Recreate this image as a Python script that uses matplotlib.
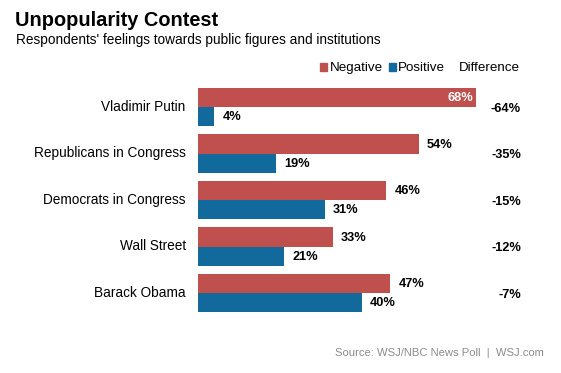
import matplotlib
matplotlib.use("Agg")
import matplotlib.pyplot as plt
from matplotlib.patches import Rectangle
from matplotlib.transforms import blended_transform_factory

plt.rcParams['font.family'] = ['Liberation Sans', 'DejaVu Sans']

# data
categories = ['Vladimir Putin', 'Republicans in Congress', 'Democrats in Congress',
              'Wall Street', 'Barack Obama']
negative = [68, 54, 46, 33, 47]
positive = [4, 19, 31, 21, 40]
difference = [-64, -35, -15, -12, -7]

red = '#c0504d'
blue = '#11699c'

W, H = 561, 373
fig = plt.figure(figsize=(W / 100, H / 100), dpi=100)
fig.patch.set_facecolor('white')

def fx(px):
    return px / W

def fy(py):
    return 1 - py / H

# axes: x from pixel 198, 4.09 px per percent; groups every 46.5 px
left, top, bottom = 198, 83.75, 316.25
xmax = 80
ax = fig.add_axes([fx(left), fy(bottom), xmax * 4.09 / W, (bottom - top) / H])
ax.set_xlim(0, xmax)
ax.set_ylim(len(categories) - 0.5, -0.5)
ax.axis('off')

h = 0.41
ys = list(range(len(categories)))
ax.barh([y - h / 2 for y in ys], negative, height=h, color=red, linewidth=0)
ax.barh([y + h / 2 for y in ys], positive, height=h, color=blue, linewidth=0)

diff_tr = blended_transform_factory(fig.transFigure, ax.transData)
for y, n, p, d, name in zip(ys, negative, positive, difference, categories):
    if n > 60:
        ax.text(n - 0.8, y - h / 2 + 0.02, f'{n}%', ha='right', va='center',
                color='white', fontsize=9.2, fontweight='bold')
    else:
        ax.text(n + 2, y - h / 2 + 0.02, f'{n}%', ha='left', va='center',
                color='black', fontsize=9.2, fontweight='bold')
    ax.text(p + 2, y + h / 2 + 0.02, f'{p}%', ha='left', va='center',
            color='black', fontsize=9.2, fontweight='bold')
    ax.text(fx(521), y + 0.04, f'{d}%', transform=diff_tr,
            ha='right', va='center', fontsize=9.2, fontweight='bold')
    ax.text(-3.0, y, name, ha='right', va='center', fontsize=9.8, color='black')

# title and subtitle
fig.text(fx(15), fy(20), 'Unpopularity Contest', fontsize=14.4, fontweight='bold',
         ha='left', va='center')
fig.text(fx(16.5), fy(40), "Respondents' feelings towards public figures and institutions",
         fontsize=9.8, ha='left', va='center')

# legend
fig.patches.append(Rectangle((fx(320), fy(70.5)), 7 / W, 7 / H, color=red,
                             transform=fig.transFigure, figure=fig))
fig.text(fx(330), fy(71), 'Negative', fontsize=9.6, ha='left', va='baseline')
fig.patches.append(Rectangle((fx(389), fy(70.5)), 7 / W, 7 / H, color=blue,
                             transform=fig.transFigure, figure=fig))
fig.text(fx(398), fy(71), 'Positive', fontsize=9.6, ha='left', va='baseline')
fig.text(fx(520), fy(71), 'Difference', fontsize=9.6, ha='right', va='baseline')

# source
fig.text(fx(544), fy(353), 'Source: WSJ/NBC News Poll  |  WSJ.com', fontsize=8.1,
         color='#8c8c8c', ha='right', va='center')

fig.savefig('out.png', dpi=100, facecolor='white')
